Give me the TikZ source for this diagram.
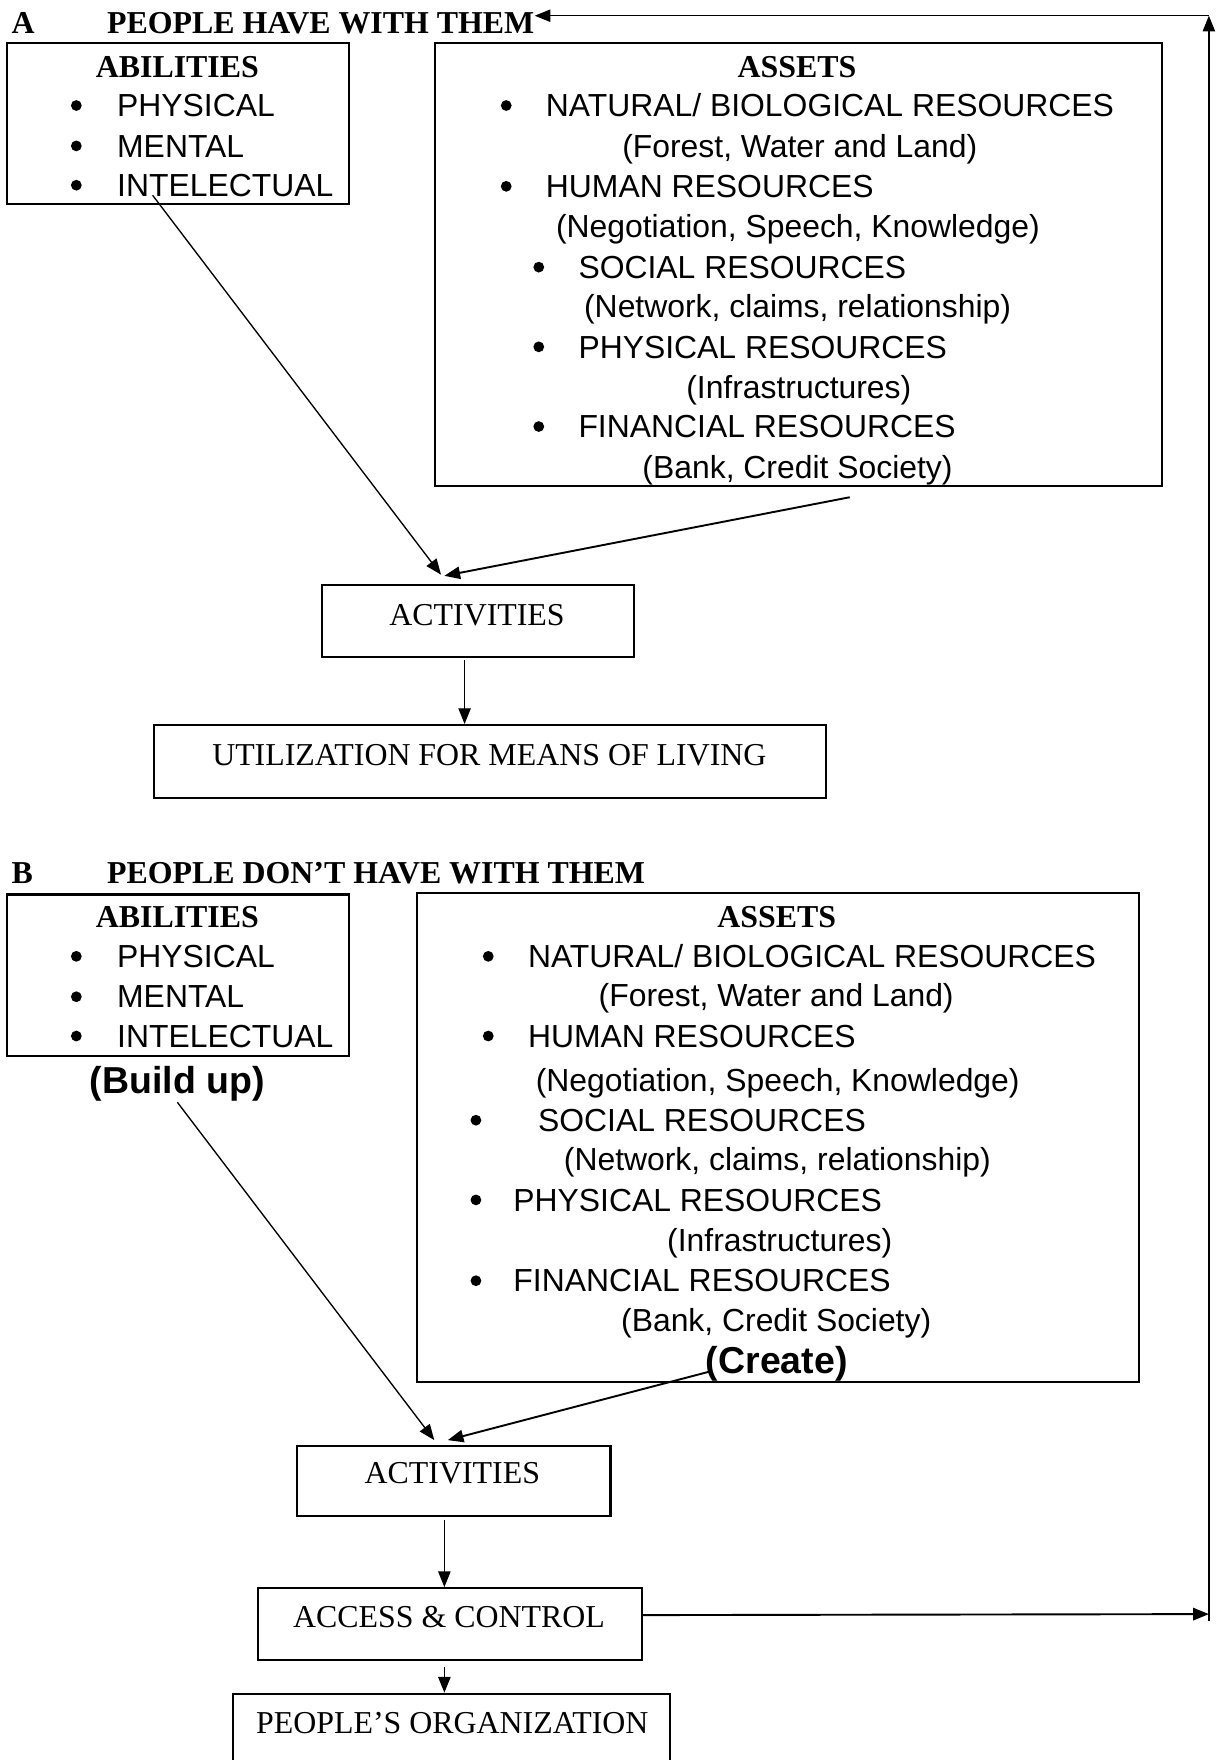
\documentclass[tikz,border=0pt]{standalone}
\usepackage{fontspec}
\setmainfont{Liberation Serif}
\newfontfamily\arialfont{Liberation Sans}
\usetikzlibrary{arrows.meta}
\begin{document}
\begin{tikzpicture}[x=0.5pt,y=-0.5pt,
  box/.style={draw,line width=0.9pt,inner sep=0,anchor=north west},
  tx/.style={inner sep=0,anchor=base west,font=\fontsize{14.2}{17}\selectfont\arialfont},
  bul/.style={circle,fill,inner sep=0,minimum size=4.8pt},
  hd/.style={inner sep=0,anchor=base,font=\fontsize{14.2}{17}\selectfont\bfseries},
  ttl/.style={inner sep=0,anchor=base west,font=\fontsize{14.2}{17}\selectfont\bfseries},
  lbl/.style={inner sep=0,anchor=base,font=\fontsize{14.2}{17}\selectfont},
  big/.style={inner sep=0,anchor=base,font=\fontsize{16.7}{20}\selectfont\arialfont\bfseries},
  arr/.style={-{Triangle[length=7pt,width=5.5pt]},line width=0.6pt},
  arrb/.style={arr,line width=0.85pt}]
\useasboundingbox (0,0) rectangle (1087,1568);
\clip (0,0) rectangle (1087,1568);

% ---------------- Part A ----------------
\node[ttl] (lA) at (10,30) {A};
\node[ttl] (titleA) at (95,30) {PEOPLE HAVE WITH THEM};

\node[box,minimum width=152.5pt,minimum height=72pt] (abA) at (5,37) {};
\node[hd] (abAh) at (158,69) {ABILITIES};
\foreach \t/\b [count=\i] in {PHYSICAL/104, MENTAL/140, INTELECTUAL/175} {
  \node[bul] (abAb\i) at (68,\b-10) {};
  \node[tx] (abAt\i) at (104,\b) {\t};
}

\node[box,minimum width=323.5pt,minimum height=197.5pt] (asA) at (387,37) {};
\node[hd] (asAh) at (710,69) {ASSETS};
\node[bul] (asAb1) at (451,94) {};
\node[tx] (asAt1) at (486,104) {NATURAL/ BIOLOGICAL RESOURCES};
\node[tx] (asAs1) at (554,140) {(Forest, Water and Land)};
\node[bul] (asAb2) at (451,166) {};
\node[tx] (asAt2) at (486,176) {HUMAN RESOURCES};
\node[tx] (asAs2) at (495,212) {(Negotiation, Speech, Knowledge)};
\node[bul] (asAb3) at (480,238) {};
\node[tx] (asAt3) at (515,248) {SOCIAL RESOURCES};
\node[tx] (asAs3) at (520,283) {(Network, claims, relationship)};
\node[bul] (asAb4) at (480,309) {};
\node[tx] (asAt4) at (515,319) {PHYSICAL RESOURCES};
\node[tx] (asAs4) at (611,355) {(Infrastructures)};
\node[bul] (asAb5) at (480,380) {};
\node[tx] (asAt5) at (515,390) {FINANCIAL RESOURCES};
\node[tx] (asAs5) at (572,426) {(Bank, Credit Society)};

\node[box,minimum width=139pt,minimum height=32pt] (actA) at (286,520) {};
\node[lbl] (actAt) at (425,557) {ACTIVITIES};
\node[box,minimum width=299.5pt,minimum height=32.5pt] (util) at (136,645) {};
\node[lbl] (utilt) at (436,682) {UTILIZATION FOR MEANS OF LIVING};

\coordinate (sA1) at (136,174);
\coordinate (sA2) at (757,443);
\draw[arr] (sA1) -- ([xshift=-16.5pt,yshift=4pt]actA.north);
\draw[arrb] (sA2) -- ([xshift=-15pt,yshift=3.5pt]actA.north);
\draw[arr] ([xshift=-6pt,yshift=-1pt]actA.south) -- ([xshift=-6pt]actA.south |- util.north);

% ---------------- Part B ----------------
\node[ttl] (lB) at (10,787) {B};
\node[ttl] (titleB) at (95,787) {PEOPLE DON’T HAVE WITH THEM};

\node[box,minimum width=152.5pt,minimum height=72pt] (abB) at (5,796) {};
\node[hd] (abBh) at (158,826) {ABILITIES};
\foreach \t/\b [count=\i] in {PHYSICAL/862, MENTAL/898, INTELECTUAL/933} {
  \node[bul] (abBb\i) at (68,\b-10) {};
  \node[tx] (abBt\i) at (104,\b) {\t};
}
\node[big] (build) at (158,974) {(Build up)};

\node[box,minimum width=321.5pt,minimum height=217.5pt] (asB) at (371,795) {};
\node[hd] (asBh) at (692,826) {ASSETS};
\node[bul] (asBb1) at (435,852) {};
\node[tx] (asBt1) at (470,862) {NATURAL/ BIOLOGICAL RESOURCES};
\node[tx] (asBs1) at (533,897) {(Forest, Water and Land)};
\node[bul] (asBb2) at (435,923) {};
\node[tx] (asBt2) at (470,933) {HUMAN RESOURCES};
\node[tx] (asBs2) at (477,972) {(Negotiation, Speech, Knowledge)};
\node[bul] (asBb3) at (424,998) {};
\node[tx] (asBt3) at (479,1008) {SOCIAL RESOURCES};
\node[tx] (asBs3) at (502,1043) {(Network, claims, relationship)};
\node[bul] (asBb4) at (424,1069) {};
\node[tx] (asBt4) at (457,1079) {PHYSICAL RESOURCES};
\node[tx] (asBs4) at (594,1115) {(Infrastructures)};
\node[bul] (asBb5) at (424,1141) {};
\node[tx] (asBt5) at (457,1151) {FINANCIAL RESOURCES};
\node[tx] (asBs5) at (553,1186) {(Bank, Credit Society)};
\node[big] (create) at (692,1224) {(Create)};

\node[box,minimum width=139.5pt,minimum height=31.5pt] (actB) at (264,1287) {};
\node[lbl] (actBt) at (403,1322) {ACTIVITIES};
\node[box,minimum width=171pt,minimum height=32pt] (acc) at (229,1414) {};
\node[lbl] (acct) at (400,1450) {ACCESS \& CONTROL};
\node[box,minimum width=194.5pt,minimum height=45pt] (org) at (207,1508) {};
\node[lbl] (orgt) at (403,1544) {PEOPLE’S ORGANIZATION};

\coordinate (sB1) at (158,982);
\coordinate (sB2) at (632,1222);
\draw[arr] (sB1) -- ([xshift=-8.75pt,yshift=2pt]actB.north);
\draw[arrb] (sB2) -- ([xshift=-2.75pt,yshift=2pt]actB.north);
\draw[arr] ([xshift=-4.25pt,yshift=-1pt]actB.south) -- ([xshift=-4.25pt]actB.south |- acc.north);
\draw[arr] ([xshift=-2.5pt,yshift=-2.5pt]acc.south) -- ([xshift=-2.5pt]acc.south |- org.north);

% ---------------- feedback loop ----------------
\coordinate (cbr) at (1077,1438);
\coordinate (cbot) at (1077,1444);
\coordinate (ctop) at (1077,14);
\draw[arrb] ([yshift=4pt]acc.east) -- (cbr);
\draw[arr] (cbot) -- (ctop);
\draw[arr] (ctop) -- (titleA.east |- ctop);
\end{tikzpicture}
\end{document}
